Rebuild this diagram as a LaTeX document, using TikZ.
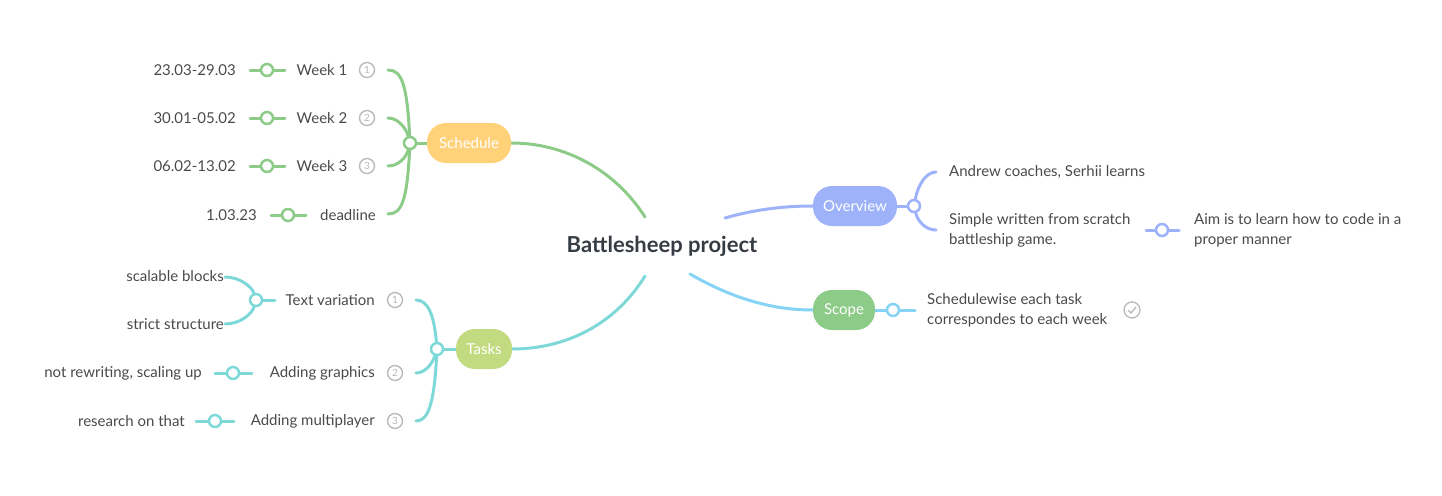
\documentclass[tikz,border=0pt]{standalone}
\usepackage{fontspec}
\setmainfont{Lato}
\usetikzlibrary{backgrounds}
\definecolor{txtgray}{HTML}{4A4A4A}
\definecolor{titlegray}{HTML}{363C44}
\definecolor{icongray}{HTML}{B4B8BC}
\definecolor{sgreen}{HTML}{8DCB88}
\definecolor{tteal}{HTML}{7FD8D8}
\definecolor{oblue}{HTML}{9DB2F9}
\definecolor{scblue}{HTML}{86D3F5}
\definecolor{schedfill}{HTML}{FFD27A}
\definecolor{tasksfill}{HTML}{C3DB80}
\definecolor{ovfill}{HTML}{9DB2F9}
\definecolor{scopefill}{HTML}{8DCB88}
\tikzset{
  txt/.style={font=\fontsize{15}{20}\selectfont, text=txtgray, inner sep=0pt, align=left},
  rtxt/.style={txt, anchor=east},
  ltxt/.style={txt, anchor=west},
  ttl/.style={font=\fontsize{22}{26}\selectfont\bfseries, text=titlegray, inner sep=0pt},
  pill/.style={rectangle, rounded corners=19pt, minimum height=40pt, inner sep=0pt, text=white, font=\fontsize{15}{17}\selectfont},
  jn/.style={circle, draw, fill=white, line width=2.5pt, minimum size=12pt, inner sep=0pt},
  num/.style={circle, draw=icongray, line width=1.3pt, minimum size=15pt, inner sep=0pt, text=icongray, font=\fontsize{10}{10}\selectfont},
  br/.style={line width=3pt, line cap=round},
}
\begin{document}
\begin{tikzpicture}[x=1pt,y=-1pt]
\useasboundingbox (0,0) rectangle (1442,495);

% root
\node[ttl] (root) at (662,246) {Battlesheep project};

% ---------- Schedule ----------
\node[pill, fill=schedfill, minimum width=84pt] (sched) at (469,143) {Schedule};
\node[jn, draw=sgreen] (sj) at (410,143) {};
\node[txt] (w1) at (322,70) {Week 1};
\node[txt] (w2) at (322,118) {Week 2};
\node[txt] (w3) at (322,166) {Week 3};
\node[txt] (dl) at (348,215) {deadline};
\node[num] (n1) at (367,70) {1};
\node[num] (n2) at (367,118) {2};
\node[num] (n3) at (367,166) {3};
\coordinate (se1) at (388,70);
\coordinate (se2) at (388,118);
\coordinate (se3) at (388,166);
\coordinate (se4) at (388,214);
\node[jn, draw=sgreen] (wj1) at (267,70) {};
\node[jn, draw=sgreen] (wj2) at (267,118) {};
\node[jn, draw=sgreen] (wj3) at (267,166) {};
\node[jn, draw=sgreen] (wj4) at (288,215) {};
\node[rtxt] (d1) at (236,70) {23.03-29.03};
\node[rtxt] (d2) at (236,118) {30.01-05.02};
\node[rtxt] (d3) at (236,166) {06.02-13.02};
\node[rtxt] (d4) at (257,215) {1.03.23};

% ---------- Tasks ----------
\node[pill, fill=tasksfill, minimum width=56pt] (tasks) at (484,349) {Tasks};
\node[jn, draw=tteal] (tj) at (437,349) {};
\node[num] (m1) at (395,300) {1};
\node[num] (m2) at (395,373) {2};
\node[num] (m3) at (395,421) {3};
\node[rtxt] (tv) at (375,300) {Text variation};
\node[rtxt] (ag) at (375,373) {Adding graphics};
\node[rtxt] (am) at (375,421) {Adding multiplayer};
\coordinate (te1) at (416,300);
\coordinate (te2) at (416,373);
\coordinate (te3) at (416,421);
\node[jn, draw=tteal] (tvj) at (256,300) {};
\coordinate (tve1) at (225,277);
\coordinate (tve2) at (225,324);
\node[rtxt] (sb) at (224,276) {scalable blocks};
\node[rtxt] (ss) at (224,324) {strict structure};
\node[jn, draw=tteal] (agj) at (233,373) {};
\node[rtxt] (nr) at (202,373) {not rewriting, scaling up};
\node[jn, draw=tteal] (amj) at (215,421) {};
\node[rtxt] (ro) at (185,421) {research on that};

% ---------- Overview ----------
\node[pill, fill=ovfill, minimum width=84pt] (ov) at (855,206) {Overview};
\node[jn, draw=oblue] (oj) at (914,206) {};
\coordinate (oe1) at (936,172);
\coordinate (oe2) at (936,230);
\node[ltxt] (ac) at (949,172) {Andrew coaches, Serhii learns};
\node[ltxt] (sw) at (949,230) {Simple written from scratch\\battleship game.};
\node[jn, draw=oblue] (swj) at (1162,230) {};
\node[ltxt] (aim) at (1194,230) {Aim is to learn how to code in a\\proper manner};

% ---------- Scope ----------
\node[pill, fill=scopefill, minimum width=62pt] (scope) at (844,310) {Scope};
\node[jn, draw=scblue] (scj) at (893,310) {};
\node[ltxt] (sc) at (927,310) {Schedulewise each task\\correspondes to each week};
\node[circle, draw=icongray, line width=1.3pt, minimum size=16pt, inner sep=0pt] (chk) at (1132,310) {};
\draw[icongray, line width=1.3pt, line cap=round, line join=round]
  ([shift={(-3.5,0.5)}]chk.center) -- ([shift={(-1,3)}]chk.center) -- ([shift={(4,-3)}]chk.center);

% ---------- connectors ----------
\begin{scope}[on background layer]
  % main
  \draw[br, sgreen] ([shift={(-17,-29)}]root.center) .. controls (615,170) and (565,143) .. (sched.east);
  \draw[br, tteal] ([shift={(-17,30)}]root.center) .. controls (615,325) and (565,349) .. (tasks.east);
  \draw[br, oblue] ([shift={(63,-28)}]root.center) .. controls (760,208) and (790,206) .. (ov.west);
  \draw[br, scblue] ([shift={(28,28)}]root.center) .. controls (735,300) and (775,310) .. (scope.west);
  % schedule
  \draw[br, sgreen] (sched.west) -- (sj);
  \draw[br, sgreen] (sj) .. controls (407,85) and (402,70) .. (se1);
  \draw[br, sgreen] (sj) .. controls (406,128) and (398,118) .. (se2);
  \draw[br, sgreen] (sj) .. controls (406,158) and (398,166) .. (se3);
  \draw[br, sgreen] (sj) .. controls (407,200) and (402,214) .. (se4);
  \draw[br, sgreen] ([xshift=-17]wj1.center) -- ([xshift=18]wj1.center);
  \draw[br, sgreen] ([xshift=-17]wj2.center) -- ([xshift=18]wj2.center);
  \draw[br, sgreen] ([xshift=-17]wj3.center) -- ([xshift=18]wj3.center);
  \draw[br, sgreen] ([xshift=-17]wj4.center) -- ([xshift=18]wj4.center);
  % tasks
  \draw[br, tteal] (tasks.west) -- (tj);
  \draw[br, tteal] (tj) .. controls (434,315) and (428,300) .. (te1);
  \draw[br, tteal] (tj) .. controls (433,362) and (426,373) .. (te2);
  \draw[br, tteal] (tj) .. controls (434,405) and (428,421) .. (te3);
  \draw[br, tteal] (tvj) -- ([xshift=19]tvj.center);
  \draw[br, tteal] (tvj) .. controls (252,287) and (240,277) .. (tve1);
  \draw[br, tteal] (tvj) .. controls (252,314) and (240,324) .. (tve2);
  \draw[br, tteal] ([xshift=-18]agj.center) -- ([xshift=19]agj.center);
  \draw[br, tteal] ([xshift=-19]amj.center) -- ([xshift=19]amj.center);
  % overview
  \draw[br, oblue] (ov.east) -- (oj);
  \draw[br, oblue] (oj) .. controls (918,185) and (926,172) .. (oe1);
  \draw[br, oblue] (oj) .. controls (918,222) and (926,230) .. (oe2);
  \draw[br, oblue] ([xshift=-16]swj.center) -- ([xshift=17]swj.center);
  % scope
  \draw[br, scblue] (scope.east) -- ([xshift=22]scj.center);
\end{scope}
\end{tikzpicture}
\end{document}
